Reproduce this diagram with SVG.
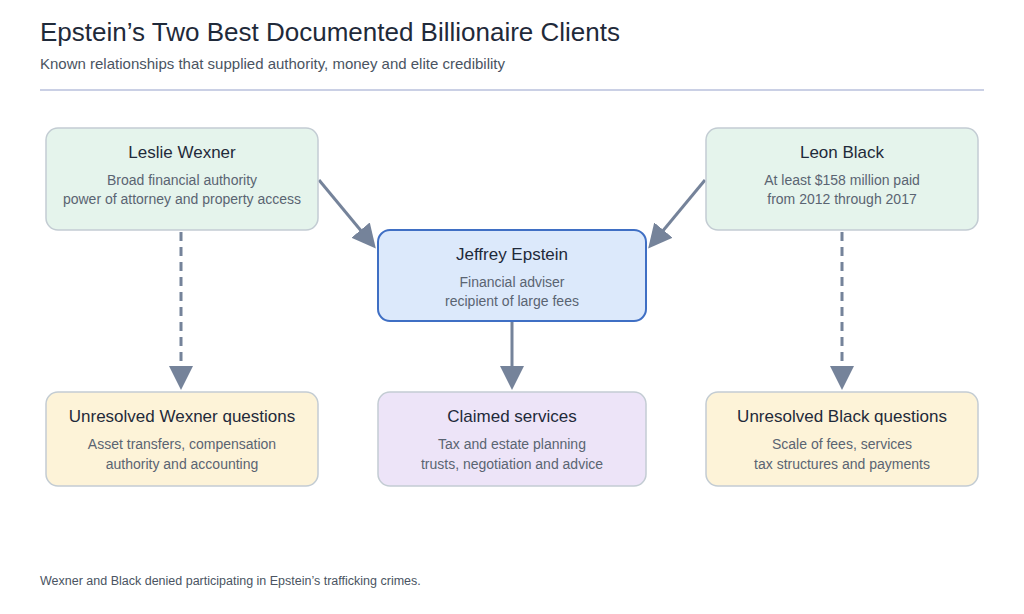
<svg xmlns="http://www.w3.org/2000/svg" width="1024" height="614" viewBox="0 0 1024 614">
<style>
text{font-family:"Liberation Sans",Arial,sans-serif}
.t{font-size:17px;fill:#1f2a3a;text-anchor:middle}
.s{font-size:14px;fill:#5a6472;text-anchor:middle}
.b{stroke-width:1.5}
.c{stroke:#75839a;stroke-width:3;fill:none}
</style>
<defs><marker id="a" markerWidth="8" markerHeight="8" refX="6" refY="4" orient="auto" markerUnits="strokeWidth"><path d="M0,0 L8,4 L0,8 z" fill="#75839a"/></marker></defs>
<rect width="1024" height="614" fill="#fff"/>
<text x="40" y="41" font-size="26" fill="#1f2a3a">Epstein’s Two Best Documented Billionaire Clients</text>
<text x="40" y="69" font-size="15" fill="#4a5462">Known relationships that supplied authority, money and elite credibility</text>
<line x1="40" y1="90" x2="984" y2="90" stroke="#b9c0dc" stroke-width="1.5"/>
<g id="connectors">
<line class="c" x1="319" y1="180" x2="372" y2="244" marker-end="url(#a)"/>
<line class="c" x1="705" y1="180" x2="652" y2="244" marker-end="url(#a)"/>
<line class="c" x1="181" y1="232" x2="181" y2="384" stroke-dasharray="9,6" marker-end="url(#a)"/>
<line class="c" x1="842" y1="232" x2="842" y2="384" stroke-dasharray="9,6" marker-end="url(#a)"/>
<line class="c" x1="512" y1="322" x2="512" y2="384" marker-end="url(#a)"/>
</g>
<g id="wexner"><rect class="b" x="46" y="128" width="272" height="102" rx="12" fill="#e5f4ec" stroke="#c3ccd3"/><text class="t" x="182" y="158">Leslie Wexner</text><text class="s" x="182" y="185">Broad financial authority</text><text class="s" x="182" y="204">power of attorney and property access</text></g>
<g id="black"><rect class="b" x="706" y="128" width="272" height="102" rx="12" fill="#e5f4ec" stroke="#c3ccd3"/><text class="t" x="842" y="158">Leon Black</text><text class="s" x="842" y="185">At least $158 million paid</text><text class="s" x="842" y="204">from 2012 through 2017</text></g>
<g id="epstein"><rect x="378" y="230" width="268" height="91" rx="12" fill="#dce9fb" stroke="#3f6fc4" stroke-width="2"/><text class="t" x="512" y="260">Jeffrey Epstein</text><text class="s" x="512" y="287">Financial adviser</text><text class="s" x="512" y="306">recipient of large fees</text></g>
<g id="wq"><rect class="b" x="46" y="392" width="272" height="94" rx="12" fill="#fdf3d8" stroke="#c3ccd3"/><text class="t" x="182" y="422">Unresolved Wexner questions</text><text class="s" x="182" y="449">Asset transfers, compensation</text><text class="s" x="182" y="469">authority and accounting</text></g>
<g id="cs"><rect class="b" x="378" y="392" width="268" height="94" rx="12" fill="#ede4f8" stroke="#c3ccd3"/><text class="t" x="512" y="422">Claimed services</text><text class="s" x="512" y="449">Tax and estate planning</text><text class="s" x="512" y="469">trusts, negotiation and advice</text></g>
<g id="bq"><rect class="b" x="706" y="392" width="272" height="94" rx="12" fill="#fdf3d8" stroke="#c3ccd3"/><text class="t" x="842" y="422">Unresolved Black questions</text><text class="s" x="842" y="449">Scale of fees, services</text><text class="s" x="842" y="469">tax structures and payments</text></g>
<text x="40" y="585" font-size="12.5" fill="#4a5462">Wexner and Black denied participating in Epstein’s trafficking crimes.</text>
</svg>
